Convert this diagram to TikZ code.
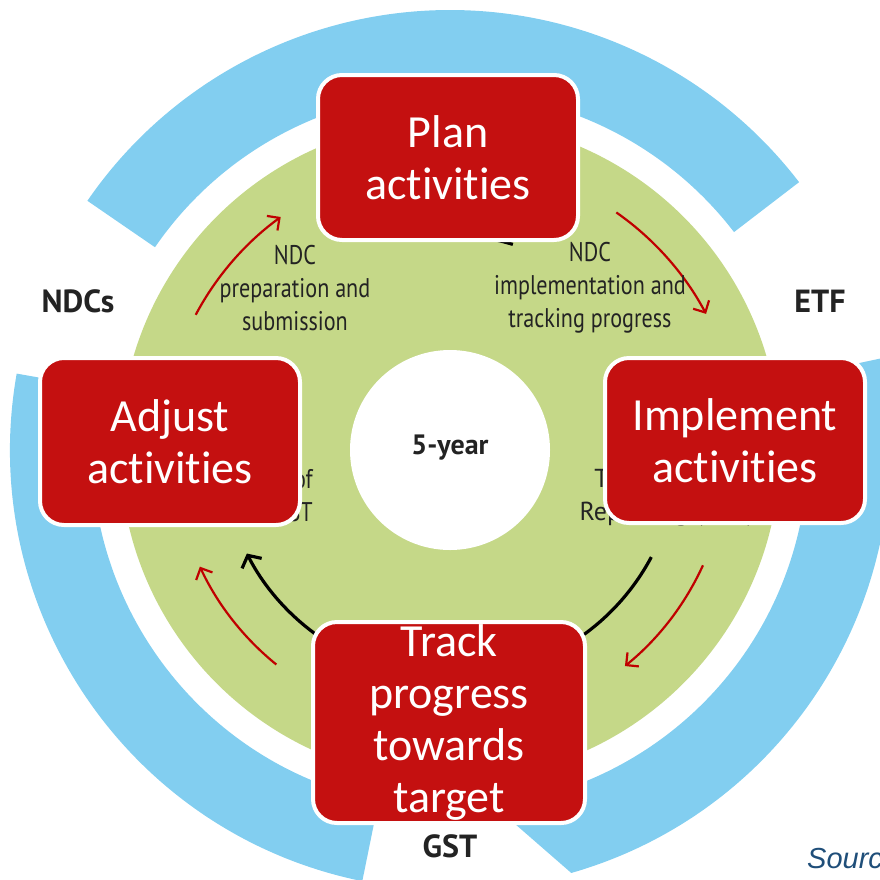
\documentclass[tikz,border=0pt]{standalone}
\usepackage{fontspec}
\newfontfamily\boxfont[Ligatures=NoCommon,RawFeature={-calt;-liga}]{Carlito}
\newfontfamily\labelfont[FakeStretch=0.82]{PT Sans}
\newfontfamily\headfont{PT Sans}
\newfontfamily\srcfont{Liberation Sans}
\usetikzlibrary{arrows.meta}

\definecolor{ringblue}{RGB}{130,206,240}
\definecolor{discgreen}{RGB}{197,216,136}
\definecolor{boxred}{RGB}{196,16,16}
\definecolor{arrowred}{RGB}{192,0,0}
\definecolor{srcblue}{RGB}{31,78,121}
\definecolor{labelgray}{RGB}{35,35,35}

\tikzset{
  stepbox/.style={draw=white, line width=4pt, fill=boxred, rounded corners=24pt, text=white,
    font=\boxfont\fontsize{46}{52}\selectfont, align=center, inner sep=0pt},
  cyclelabel/.style={text=labelgray, font=\labelfont\fontsize{27}{33}\selectfont, align=center, inner sep=0pt},
  phaselabel/.style={text=labelgray, font=\headfont\bfseries\fontsize{32}{36}\selectfont, inner sep=0pt},
  redarrow/.style={draw=arrowred, line width=2.2pt, -{Straight Barb[length=9pt,width=18pt]}},
  blackarrow/.style={draw=black, line width=3.2pt, -{Straight Barb[length=9pt,width=22pt]}},
}

\begin{document}
\begin{tikzpicture}[x=1pt,y=1pt,yscale=-1,xscale=1]
	\clip (0,0) rectangle (880,879);

	\begin{scope}[shift={(450,450)},yscale=-1]
	% Ring
	\fill[ringblue] (37.5:440) arc[start angle=37.5,end angle=145.5,radius=440] -- (145.5:358) arc[start angle=145.5,end angle=37.5,radius=358] -- cycle;
	\fill[ringblue] (170:440) arc[start angle=170,end angle=258.5,radius=440] -- (258.5:358) arc[start angle=258.5,end angle=170,radius=358] -- cycle;
	\fill[ringblue] (-74:440) arc[start angle=-74,end angle=12,radius=440] -- (12:358) arc[start angle=12,end angle=-83,radius=358] -- cycle;
	% Disc
	\fill[discgreen] (0,0) circle[radius=330];
	\fill[white] (0,0) circle[radius=100];
	% Cycle arcs
	\coordinate (cycA) at (236:228);
	\coordinate (cycB) at (-28:228);
	\coordinate (cycC) at (100:215);
	\draw[blackarrow] (cycA) arc[start angle=236,end angle=207,radius=228];
	\draw[draw=black,line width=3.2pt] (cycB) arc[start angle=-28,end angle=-60,radius=228];
	\draw[draw=black,line width=3.2pt] (cycC) arc[start angle=100,end angle=73,radius=215];
	% Step arcs
	\coordinate (stepA) at (152:288);
	\coordinate (stepB) at (55:290);
	\coordinate (stepC) at (-24.5:278);
	\coordinate (stepD) at (231:276);
	\draw[redarrow] (stepA) arc[start angle=152,end angle=126,radius=288];
	\draw[redarrow] (stepB) arc[start angle=55,end angle=28,radius=290];
	\draw[redarrow] (stepC) arc[start angle=-24.5,end angle=-51,radius=278];
	\draw[redarrow] (stepD) arc[start angle=231,end angle=205,radius=276];
	\end{scope}

	% Text Node
	\node[cyclelabel] (prep) at (295,288) {NDC\\preparation and\\submission};
	% Text Node
	\node[cyclelabel] (track) at (590,288) {NDC\\implementation and\\tracking progress};
	% Text Node
	\node[cyclelabel,align=right,anchor=north east] (stock) at (313,469) {Stocktake of\\progress in GST};
	% Text Node
	\node[cyclelabel,font=\headfont\fontsize{26}{33}\selectfont,anchor=north] (report) at (667,469) {Transparency\\Reporting (BTR)};
	% Text Node
	\node[phaselabel,font=\headfont\bfseries\fontsize{28}{32}\selectfont] (cycle) at (450,448) {5-year};

	% Step boxes
	\node[stepbox,minimum width=260pt,minimum height=165pt] (plan) at (448,157.5) {Plan\\activities};
	\node[stepbox,minimum width=260pt,minimum height=165pt] (implement) at (735,440.5) {Implement\\activities};
	\node[stepbox,minimum width=260pt,minimum height=167pt] (adjust) at (170,441.5) {Adjust\\activities};
	\node[stepbox,minimum width=272pt,minimum height=201pt] (progress) at (449,722.5) {Track\\progress\\towards\\target};

	% Text Node
	\node[phaselabel] (ndcs) at (78,301) {NDCs};
	% Text Node
	\node[phaselabel] (etf) at (820,301) {ETF};
	% Text Node
	\node[phaselabel] (gst) at (450,846) {GST};
	% Text Node
	\node[anchor=base west,inner sep=0pt,text=srcblue,font=\srcfont\itshape\fontsize{29}{34}\selectfont] (source) at (807,868) {Source};

\end{tikzpicture}
\end{document}
